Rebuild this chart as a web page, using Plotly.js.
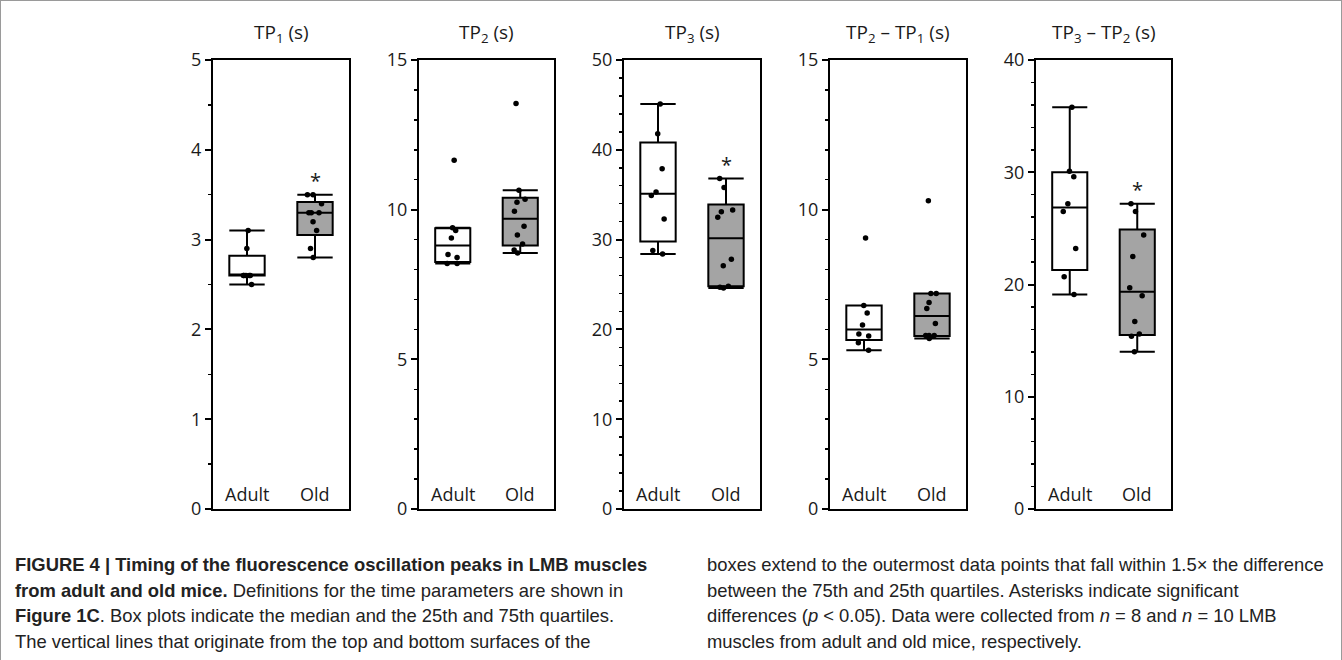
<!DOCTYPE html>
<html>
<head>
<meta charset="utf-8">
<script src="https://cdn.plot.ly/plotly-3.0.1.min.js"></script>
<style>
  html, body { margin: 0; padding: 0; background: #fff; }
  #wrap { position: relative; width: 1342px; height: 660px; overflow: hidden; box-sizing: border-box;
          border-top: 1px solid #9a9a9a; border-left: 1px solid #9a9a9a; border-right: 1px solid #9a9a9a; }
  #chart { position: absolute; left: 0; top: 0; width: 1342px; height: 660px; }
  .cap { position: absolute; font-family: "Liberation Sans", Arial, sans-serif; font-size: 18.4px;
         line-height: 25.5px; color: #222; white-space: nowrap; }
  .cap b { font-weight: bold; }
</style>
</head>
<body>
<div id="wrap">
  <div id="chart"></div>
  <div class="cap" id="capL" style="left:14px; top:551px;">
    <b>FIGURE 4 | Timing of the fluorescence oscillation peaks in LMB muscles</b><br>
    <b>from adult and old mice.</b> Definitions for the time parameters are shown in<br>
    <b>Figure 1C</b>. Box plots indicate the median and the 25th and 75th quartiles.<br>
    The vertical lines that originate from the top and bottom surfaces of the
  </div>
  <div class="cap" id="capR" style="left:706px; top:551px;">
    boxes extend to the outermost data points that fall within 1.5&times; the difference<br>
    between the 75th and 25th quartiles. Asterisks indicate significant<br>
    differences (<i>p</i> &lt; 0.05). Data were collected from <i>n</i> = 8 and <i>n</i> = 10 LMB<br>
    muscles from adult and old mice, respectively.
  </div>
</div>
<script>
// ---------------- data ----------------
const groups = ['Adult', 'Old'];

const panelTitles = ['TP<sub>1</sub> (s)', 'TP<sub>2</sub> (s)', 'TP<sub>3</sub> (s)',
                     'TP<sub>2</sub> \u2013 TP<sub>1</sub> (s)', 'TP<sub>3</sub> \u2013 TP<sub>2</sub> (s)'];

// individual data points
const tp1Adult = [3.1, 2.9, 2.6, 2.6, 2.6, 2.6, 2.6, 2.5];
const tp1Old   = [3.5, 3.5, 3.4, 3.3, 3.3, 3.3, 3.2, 3.1, 2.9, 2.8];
const tp2Adult = [11.65, 9.4, 9.3, 9.05, 8.5, 8.4, 8.2, 8.2];
const tp2Old   = [13.55, 10.65, 10.35, 10.25, 9.95, 9.45, 9.15, 8.85, 8.65, 8.55];
const tp3Adult = [45.1, 41.8, 37.9, 35.3, 34.9, 32.3, 28.8, 28.4];
const tp3Old   = [36.8, 35.8, 33.3, 33.1, 32.5, 27.8, 27.1, 24.8, 24.7, 24.6];
const d21Adult = [9.05, 6.8, 6.55, 6.15, 5.85, 5.78, 5.55, 5.3];
const d21Old   = [10.3, 7.2, 7.2, 6.9, 6.7, 6.2, 5.8, 5.8, 5.8, 5.7];
const d32Adult = [35.8, 30.1, 29.6, 27.2, 26.5, 23.2, 20.7, 19.1];
const d32Old   = [27.2, 26.5, 24.4, 22.5, 19.7, 19.0, 16.7, 15.6, 15.4, 14.0];

// box statistics [Adult, Old]
const tp1Q1 = [2.6, 3.05],  tp1Med = [2.6, 3.3],   tp1Q3 = [2.82, 3.42], tp1Lo = [2.5, 2.8],   tp1Hi = [3.1, 3.5];
const tp2Q1 = [8.25, 8.8],  tp2Med = [8.8, 9.7],   tp2Q3 = [9.38, 10.4], tp2Lo = [8.2, 8.55],  tp2Hi = [9.4, 10.65];
const tp3Q1 = [29.8, 24.8], tp3Med = [35.1, 30.15], tp3Q3 = [40.8, 33.9], tp3Lo = [28.4, 24.6], tp3Hi = [45.1, 36.8];
const d21Q1 = [5.65, 5.78], d21Med = [6.0, 6.45],  d21Q3 = [6.8, 7.2],   d21Lo = [5.3, 5.7],   d21Hi = [6.8, 7.2];
const d32Q1 = [21.3, 15.5], d32Med = [26.85, 19.35], d32Q3 = [30.0, 24.9], d32Lo = [19.1, 14.0], d32Hi = [35.8, 27.2];

// axis scales
const yMax    = [5, 15, 50, 15, 40];
const yMajor  = [1, 5, 10, 5, 10];
const yMinor  = [0.5, 1, 2, 1, 2];
const significant = [true, false, true, false, true];

// ---------------- build ----------------
const panels = [
  {a: tp1Adult, o: tp1Old, q1: tp1Q1, med: tp1Med, q3: tp1Q3, lo: tp1Lo, hi: tp1Hi},
  {a: tp2Adult, o: tp2Old, q1: tp2Q1, med: tp2Med, q3: tp2Q3, lo: tp2Lo, hi: tp2Hi},
  {a: tp3Adult, o: tp3Old, q1: tp3Q1, med: tp3Med, q3: tp3Q3, lo: tp3Lo, hi: tp3Hi},
  {a: d21Adult, o: d21Old, q1: d21Q1, med: d21Med, q3: d21Q3, lo: d21Lo, hi: d21Hi},
  {a: d32Adult, o: d32Old, q1: d32Q1, med: d32Med, q3: d32Q3, lo: d32Lo, hi: d32Hi}
];

const W = 1342, H = 660;
const panelPx = [[212, 348], [418, 553], [623, 759], [829, 965], [1035, 1170]];
const yDom = [1 - 508 / H, 1 - 59 / H];
const fills = ['#ffffff', '#a4a4a4'];
const plotFontFamily = 'Open Sans, Noto Sans, sans-serif';
const tickFont = {family: plotFontFamily, size: 18, color: '#1a1a1a'};

const traces = [];
const layout = {
  width: W, height: H,
  margin: {l: 0, r: 0, t: 0, b: 0},
  paper_bgcolor: 'rgba(0,0,0,0)', plot_bgcolor: '#fff',
  showlegend: false,
  boxmode: 'overlay',
  annotations: []
};

panels.forEach((p, i) => {
  const n = i + 1;
  const xa = 'x' + (n === 1 ? '' : n), ya = 'y' + (n === 1 ? '' : n);
  // boxes (one per group)
  groups.forEach((g, k) => {
    traces.push({
      type: 'box', xaxis: xa, yaxis: ya,
      x: [g], q1: [p.q1[k]], median: [p.med[k]], q3: [p.q3[k]],
      lowerfence: [p.lo[k]], upperfence: [p.hi[k]],
      boxpoints: false, width: 0.52, whiskerwidth: 1,
      fillcolor: fills[k], line: {color: '#000', width: 2},
      hoverinfo: 'skip'
    });
  });
  // individual points
  const xs = p.a.map(() => groups[0]).concat(p.o.map(() => groups[1]));
  const ys = p.a.concat(p.o);
  traces.push({
    type: 'box', xaxis: xa, yaxis: ya, x: xs, y: ys,
    boxpoints: 'all', jitter: 0.5, pointpos: 0, width: 0.52, whiskerwidth: 0,
    fillcolor: 'rgba(0,0,0,0)', line: {color: 'rgba(0,0,0,0)', width: 0},
    marker: {color: '#000', size: 5.5},
    hoverinfo: 'skip'
  });

  const xKey = 'xaxis' + (n === 1 ? '' : n), yKey = 'yaxis' + (n === 1 ? '' : n);
  layout[xKey] = {
    domain: [panelPx[i][0] / W, panelPx[i][1] / W], anchor: ya,
    type: 'category', categoryorder: 'array', categoryarray: groups,
    range: [-0.5, 1.5], showline: true, linewidth: 2, linecolor: '#000', mirror: true,
    ticks: '', showticklabels: false,
    showgrid: false, zeroline: false, fixedrange: true
  };
  layout[yKey] = {
    domain: yDom, anchor: xa, range: [0, yMax[i]], tick0: 0, dtick: yMajor[i],
    ticks: 'outside', ticklen: 6, tickwidth: 2, tickcolor: '#000',
    minor: {dtick: yMinor[i], tick0: 0, ticks: 'outside', ticklen: 3.5, tickwidth: 1.5, tickcolor: '#000', showgrid: false},
    showline: true, linewidth: 2, linecolor: '#000', mirror: true,
    tickfont: tickFont, showgrid: false, zeroline: false, fixedrange: true
  };
  // group labels inside the frame
  groups.forEach(g => {
    layout.annotations.push({
      xref: xa, yref: ya, x: g, y: 0, xanchor: 'center', yanchor: 'bottom', yshift: 1,
      showarrow: false, text: g, font: tickFont
    });
  });
  // panel title
  layout.annotations.push({
    xref: 'paper', yref: 'paper', x: (panelPx[i][0] + panelPx[i][1]) / 2 / W, y: 1 - 32 / H,
    xanchor: 'center', yanchor: 'middle', showarrow: false, text: panelTitles[i],
    font: {family: plotFontFamily, size: 19, color: '#1a1a1a'}
  });
  if (significant[i]) {
    layout.annotations.push({
      xref: xa, yref: ya, x: groups[1], y: p.hi[1], xanchor: 'center', yanchor: 'middle',
      yshift: 14, showarrow: false, text: '*',
      font: {family: plotFontFamily, size: 20, color: '#1a1a1a'}
    });
  }
});

Plotly.newPlot('chart', traces, layout, {staticPlot: true, displayModeBar: false});
</script>
</body>
</html>
